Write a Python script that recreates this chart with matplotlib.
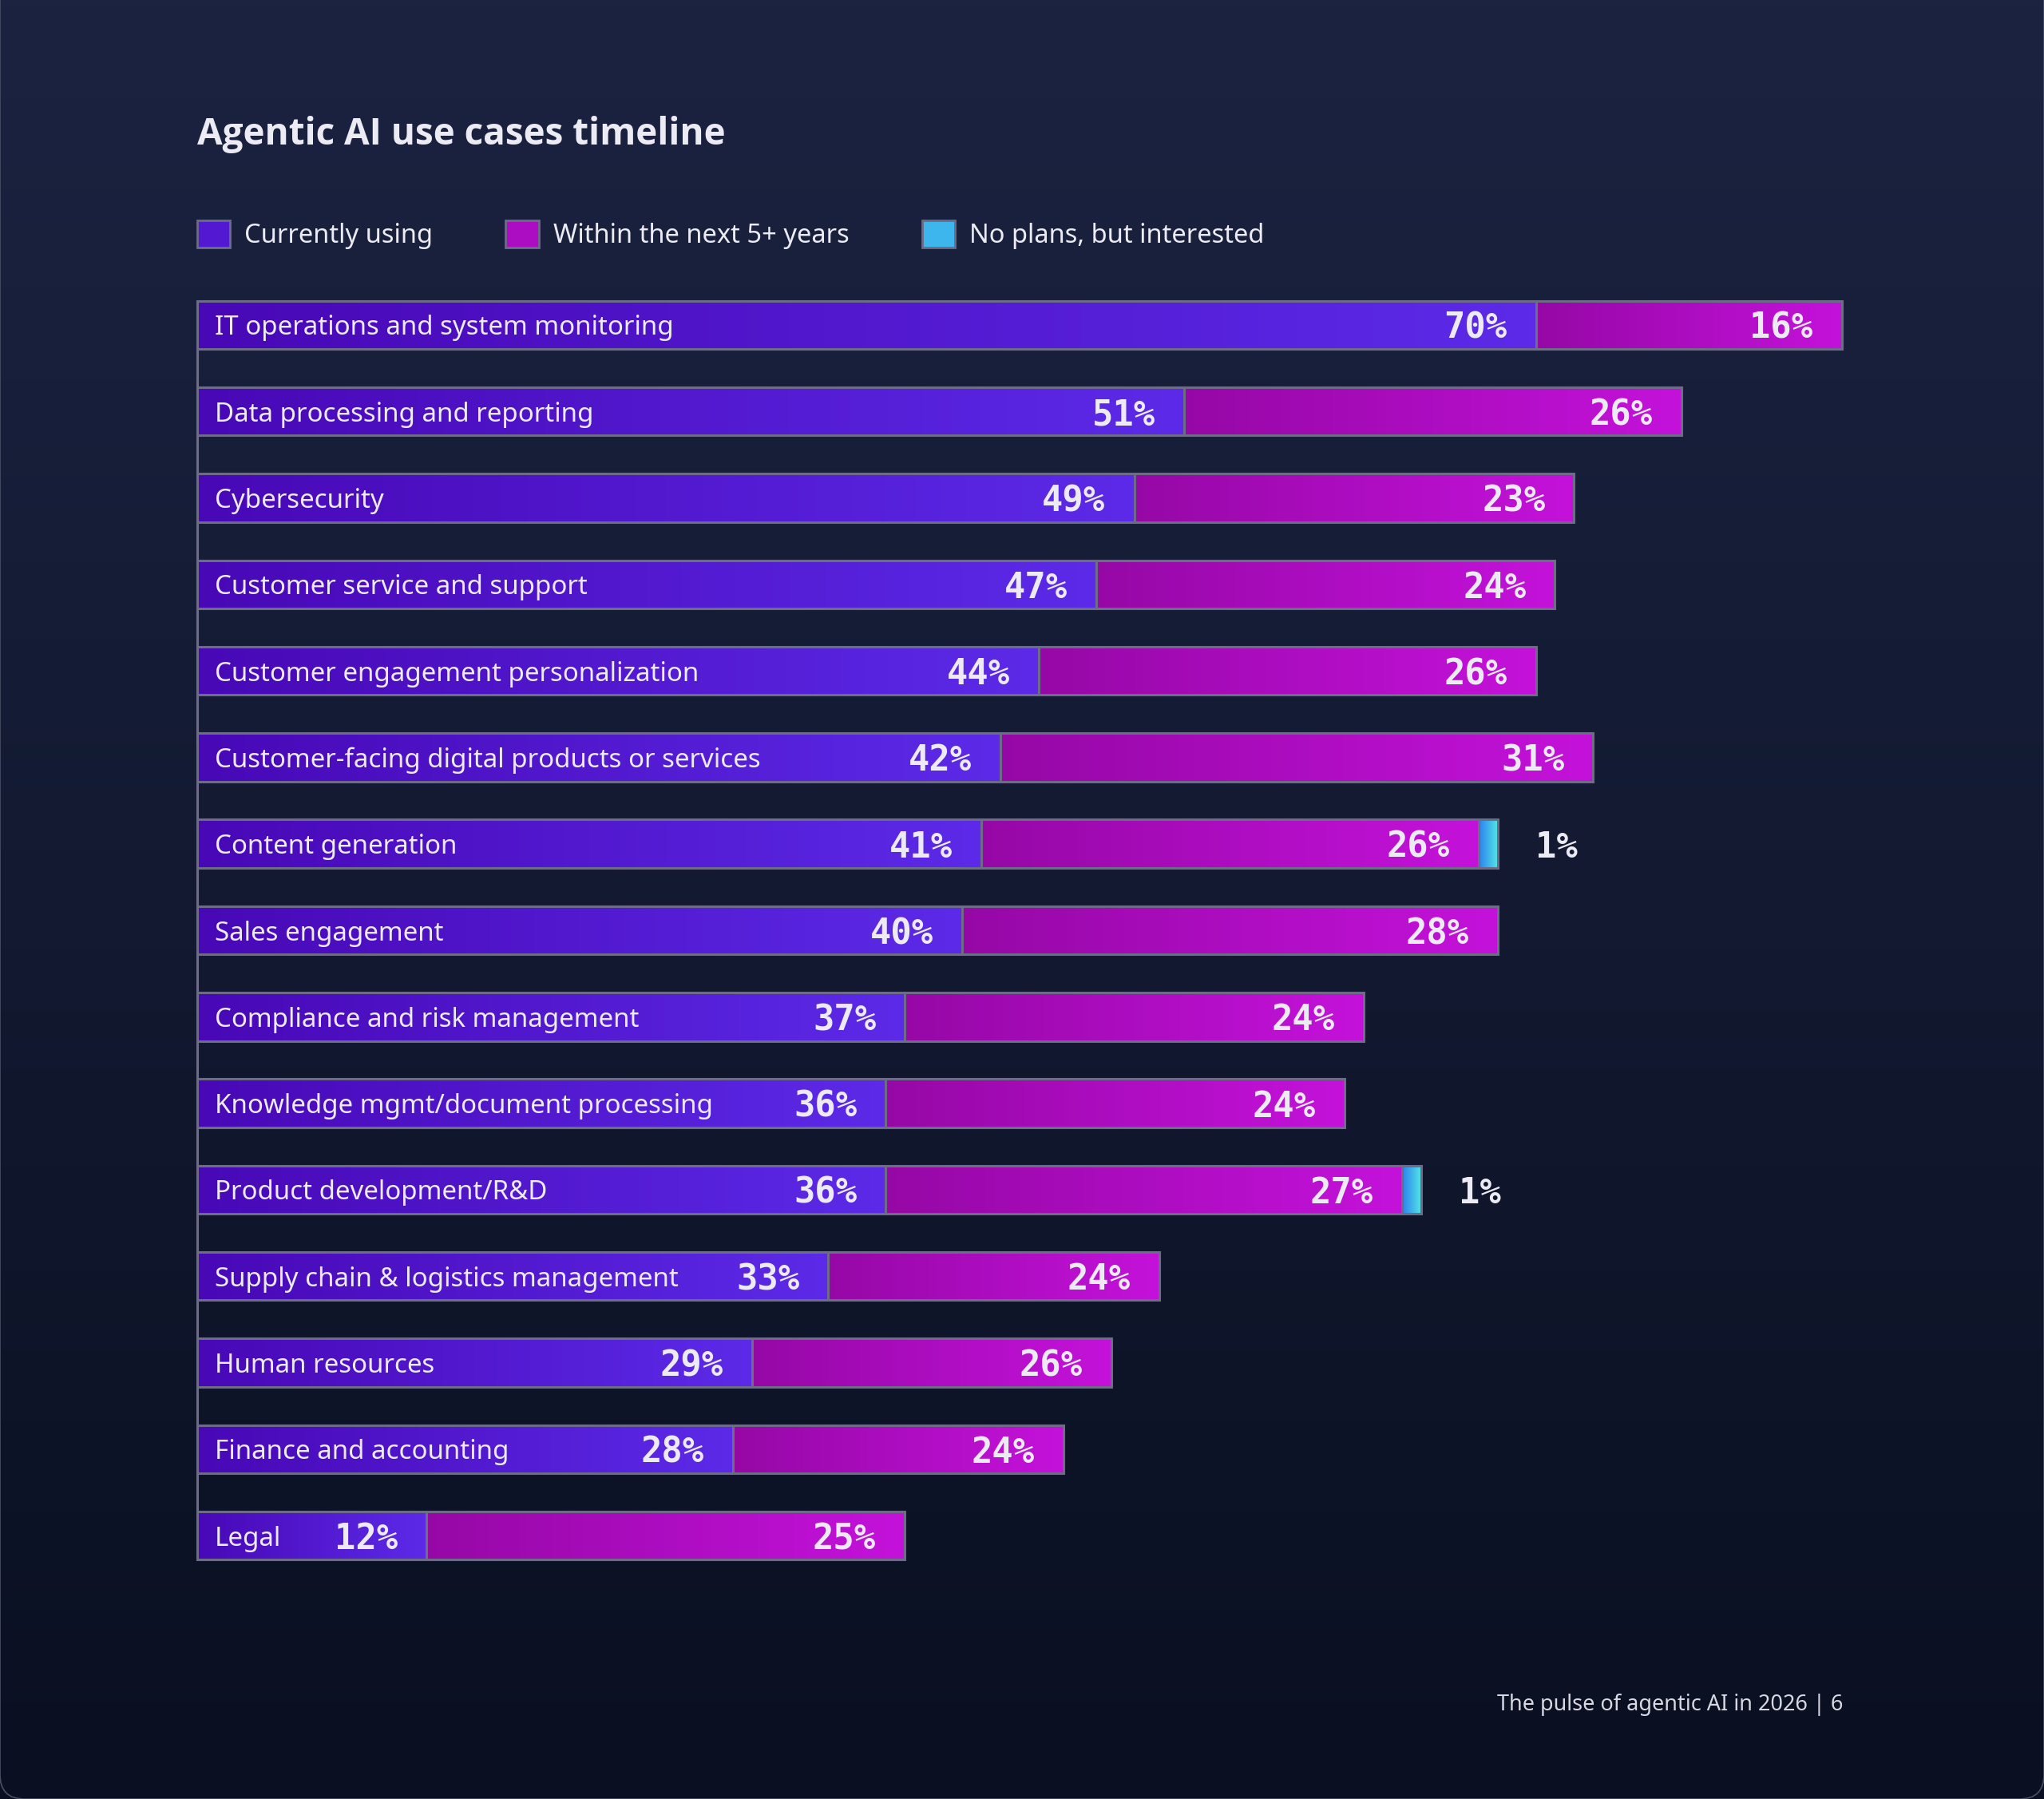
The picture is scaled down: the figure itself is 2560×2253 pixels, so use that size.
import matplotlib.pyplot as plt
import numpy as np
from matplotlib import font_manager as fm
from matplotlib.colors import LinearSegmentedColormap
from matplotlib.patches import Patch, FancyBboxPatch

categories = [
    "IT operations and system monitoring",
    "Data processing and reporting",
    "Cybersecurity",
    "Customer service and support",
    "Customer engagement personalization",
    "Customer-facing digital products or services",
    "Content generation",
    "Sales engagement",
    "Compliance and risk management",
    "Knowledge mgmt/document processing",
    "Product development/R&D",
    "Supply chain & logistics management",
    "Human resources",
    "Finance and accounting",
    "Legal",
]
# printed percentages
currently_using = [70, 51, 49, 47, 44, 42, 41, 40, 37, 36, 36, 33, 29, 28, 12]
next_5_years = [16, 26, 23, 24, 26, 31, 26, 28, 24, 24, 27, 24, 26, 24, 25]
no_plans = [0, 0, 0, 0, 0, 0, 1, 0, 0, 0, 1, 0, 0, 0, 0]
# bar lengths as drawn in the source chart (a few differ from the printed labels)
currently_using_drawn = [70, 51.6, 49, 47, 44, 42, 41, 40, 37, 36, 36, 33, 29, 28, 12]
next_5_years_drawn = [16, 26, 23, 24, 26, 31, 26, 28, 24, 24, 27, 17.3, 18.8, 17.3, 25]
series_names = ["Currently using", "Within the next 5+ years", "No plans, but interested"]

title = "Agentic AI use cases timeline"
footer = "The pulse of agentic AI in 2026 | 6"

# colours
grad_colors = [("#4808b6", "#5c2ae8"), ("#9608a6", "#c412da"), ("#2a80f0", "#52e6e6")]
legend_colors = ["#5218d2", "#ac0cc2", "#3cb6ec"]
edge_col = "#6c6c86"
text_col = "#ecebf4"
font = "Noto Sans"
mono = "DejaVu Sans Mono"

# pick a family that really has a bold face for the title
bold_fams = {f.name for f in fm.fontManager.ttflist if f.weight in (700, "bold")}
title_font = next((f for f in ["Noto Sans", "Open Sans", "Lato", "Roboto", "DejaVu Sans"]
                   if f in bold_fams), "DejaVu Sans")

W, H = 2560, 2253
fig = plt.figure(figsize=(W / 100, H / 100), dpi=100)

# background gradient
bg = fig.add_axes([0, 0, 1, 1], zorder=-10)
bg_cmap = LinearSegmentedColormap.from_list("bg", ["#1b2341", "#0a1021"])
bg.imshow(np.linspace(0, 1, 256).reshape(-1, 1), cmap=bg_cmap, aspect="auto",
          extent=(0, 1, 0, 1))
bg.set_xlim(0, 1)
bg.set_ylim(0, 1)
bg.axis("off")
card = FancyBboxPatch((0.0, 0.0), 1.0, 1.2, boxstyle="round,pad=0,rounding_size=0.012",
                      transform=bg.transAxes, facecolor="none", edgecolor="#4a5064",
                      linewidth=1.2, mutation_aspect=W / H, clip_on=False)
bg.add_patch(card)

# main axes: 1% = 23.95 px, row pitch 108.3 px
ax_left, ax_right_val = 247, 90
ax = fig.add_axes([ax_left / W, 1 - 1988 / H, ax_right_val * 23.95 / W, 1646 / H])
ax.set_facecolor("none")

y = np.arange(len(categories))
bar_h = 0.558
cur = np.array(currently_using_drawn)
nxt = np.array(next_5_years_drawn)
nop = np.array(no_plans)
lefts = [np.zeros(len(y)), cur, cur + nxt]
series = [cur, nxt, nop]

grad = np.linspace(0, 1, 256).reshape(1, -1)
for vals, left, (c0, c1) in zip(series, lefts, grad_colors):
    cmap = LinearSegmentedColormap.from_list("g", [c0, c1])
    bars = ax.barh(y, vals, left=left, height=bar_h, facecolor="none",
                   edgecolor=edge_col, linewidth=2.2, zorder=3)
    for bar, v in zip(bars, vals):
        if v <= 0:
            bar.set_visible(False)
            continue
        x0, y0 = bar.get_x(), bar.get_y()
        im = ax.imshow(grad, cmap=cmap, aspect="auto", zorder=2,
                       extent=(x0, x0 + bar.get_width(), y0 + bar.get_height(), y0))
        im.set_clip_path(bar)

# category labels inside bars
for i, cat in enumerate(categories):
    ax.annotate(cat, xy=(0, i), xytext=(16, 0), textcoords="offset points",
                ha="left", va="center_baseline", fontsize=23.8, color=text_col,
                family=font, zorder=5)

# value labels
val_kw = dict(textcoords="offset points", va="center_baseline", fontsize=31.5,
              weight="bold", color=text_col, family=mono, zorder=5)
for i in y:
    ax.annotate(f"{currently_using[i]}%", xy=(cur[i], i), xytext=(-26, 0), ha="right", **val_kw)
    ax.annotate(f"{next_5_years[i]}%", xy=(cur[i] + nxt[i], i), xytext=(-26, 0), ha="right",
                **val_kw)
    if nop[i] > 0:
        ax.annotate(f"{no_plans[i]}%", xy=(cur[i] + nxt[i] + nop[i], i), xytext=(34, 0),
                    ha="left", **val_kw)

ax.set_xlim(0, ax_right_val)
ax.set_ylim(len(y) - 0.4, -0.6)
ax.set_xticks([])
ax.set_yticks([])
for s in ["top", "right", "bottom"]:
    ax.spines[s].set_visible(False)
ax.spines["left"].set_color(edge_col)
ax.spines["left"].set_linewidth(2.2)
ax.spines["left"].set_bounds(-bar_h / 2, len(y) - 1 + bar_h / 2)

# legend
handles = [Patch(facecolor=c, edgecolor=edge_col, linewidth=2, label=n)
           for n, c in zip(series_names, legend_colors)]
leg = ax.legend(handles=handles, ncol=3, loc="lower left", bbox_to_anchor=(0, 1.0182),
                frameon=False, prop={"family": font, "size": 23.5}, labelcolor=text_col,
                handlelength=1.26, handleheight=1.26, handletextpad=0.55,
                columnspacing=2.8, borderaxespad=0, borderpad=0)

fig.text(ax_left / W, 1 - 168 / H, title, ha="left", va="center", fontsize=33,
         weight="bold", color=text_col, family=title_font)
fig.text(2308 / W, 1 - 2135 / H, footer, ha="right", va="center", fontsize=19.5,
         color="#d8d8e2", family=font)

fig.savefig("out.png", dpi=100)
